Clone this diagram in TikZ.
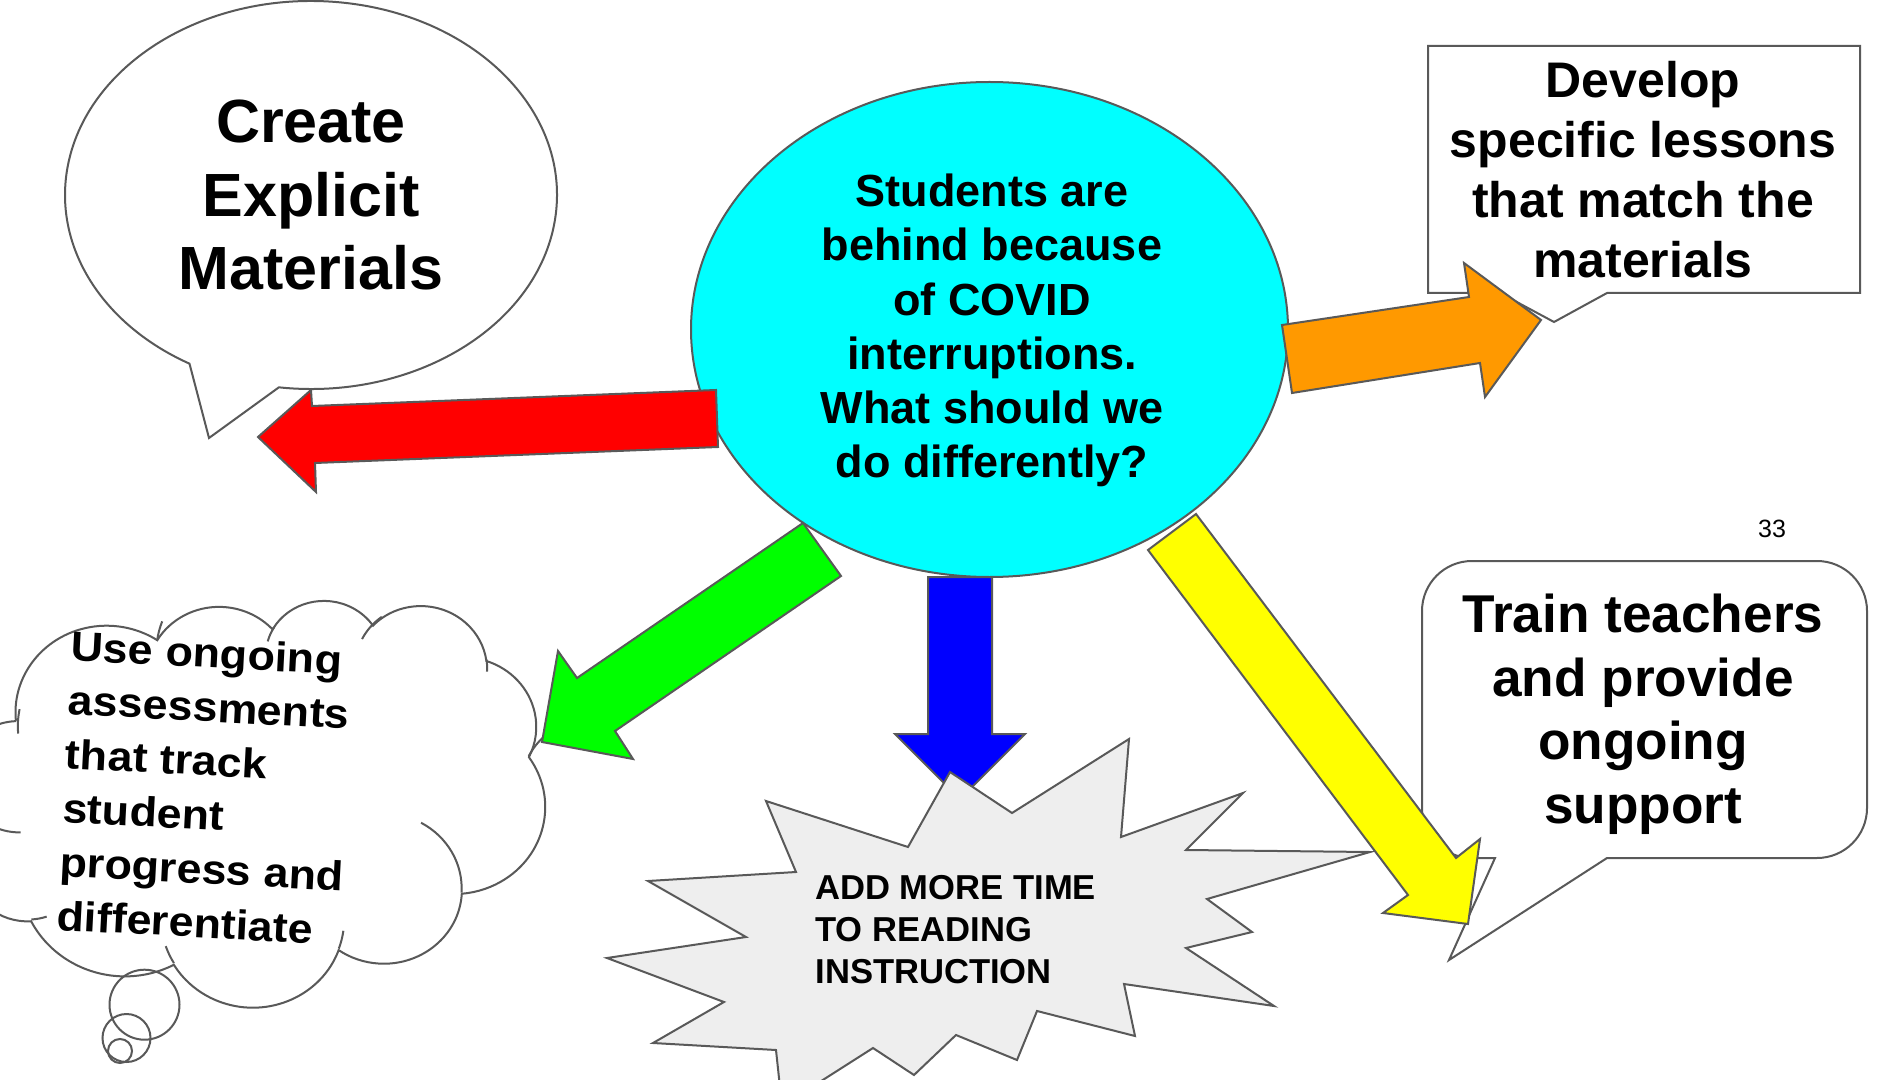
\documentclass[tikz,border=0pt]{standalone}
\usepackage{fontspec}
\setmainfont{Liberation Sans}
\usetikzlibrary{calc}
\definecolor{outl}{HTML}{595959}
\definecolor{ccyan}{HTML}{00FFFF}
\definecolor{cred}{HTML}{FF0000}
\definecolor{corange}{HTML}{FF9900}
\definecolor{cgreen}{HTML}{00FF00}
\definecolor{cblue}{HTML}{0000FF}
\definecolor{cyellow}{HTML}{FFFF00}
\definecolor{starfill}{HTML}{EEEEEE}
\tikzset{
  shapeline/.style={draw=outl, line width=1pt, line join=miter},
  blockarrow/.style={shapeline, fill=#1},
  lbl/.style={inner sep=0pt, text=black},
  ooarc/.code args={#1/#2/#3/#4}{%
    \pgfmathsetmacro\ooS{atan2((#1)*sin(#3),(#2)*cos(#3))}%
    \pgfmathsetmacro\ooE{atan2((#1)*sin((#3)+(#4)),(#2)*cos((#3)+(#4)))}%
    \pgfmathsetmacro\ooD{\ooE-\ooS}%
    \pgfmathsetmacro\ooD{\ooD+360*round(((#4)-\ooD)/360)}%
    \pgfkeysalso{/tikz/start angle=\ooS,/tikz/delta angle=\ooD,/tikz/x radius=#1,/tikz/y radius=#2}%
  }
}
\begin{document}
\begin{tikzpicture}[x=0.5pt, y=-0.5pt]
\useasboundingbox (0,0) rectangle (1878,1080);
\fill[white] (0,0) rectangle (1878,1080);

% speech bubble: Create Explicit Materials
\draw[shapeline, fill=white] ([shift={(97.5:246 and 194)}]311,195)
  arc[start angle=97.5, end angle=-240.4, x radius=246, y radius=194]
  -- (209,438) -- cycle;

% rectangular callout: Develop
\draw[shapeline, fill=white] (1428,46) -- (1860,46) -- (1860,293) -- (1607,293)
  -- (1554,322) -- (1500,293) -- (1428,293) -- cycle;

% rounded callout: Train teachers
\draw[shapeline, fill=white] (1472,561) -- (1817,561)
  arc[start angle=-90, end angle=0, radius=50] -- (1867,808)
  arc[start angle=0, end angle=90, radius=50] -- (1607,858)
  -- (1449,960) -- (1495,858) -- (1472,858)
  arc[start angle=90, end angle=180, radius=50] -- (1422,611)
  arc[start angle=180, end angle=270, radius=50] -- cycle;

% cloud callout
\begin{scope}[shift={(252,801)}, rotate=-3, xscale=1.35648, yscale=0.94907]
\draw[shapeline, fill=white] (-177.00,-72.30)
 arc[ooarc=67.53/91.90/-190.4875/123.7805]
 arc[ooarc=53.33/72.67/-144.1024/89.9452]
 arc[ooarc=43.65/59.45/-145.8079/99.7230]
 arc[ooarc=48.57/65.95/-130.9861/117.2417]
 arc[ooarc=53.33/72.73/-78.7089/109.0269]
 arc[ooarc=67.75/92.20/-46.2673/130.2690]
 arc[ooarc=57.85/78.67/0.6250/114.0333]
 arc[ooarc=67.52/92.15/22.4516/115.1726]
 arc[ooarc=77.20/105.43/66.2426/75.7110]
 arc[ooarc=43.60/59.18/-274.9421/146.7356]
 arc[ooarc=43.45/59.45/-246.8285/152.5189]
 -- cycle;
\draw[shapeline]
 (-169.07,45.77) arc[ooarc=43.45/59.45/86.742/26.4295]
 (-146.72,132.99) arc[ooarc=43.60/59.18/73.6105/11.4475]
 (-51.22,174.90) arc[ooarc=67.52/92.15/137.6242/14.0811]
 (72.27,131.51) arc[ooarc=67.52/92.15/6.4533/15.9984]
 (125.29,13.54) arc[ooarc=57.85/78.67/-70.2924/70.9174]
 (201.98,-62.46) arc[ooarc=53.33/72.73/-149.1815/30.5263]
 (167.24,-161.74) arc[ooarc=48.57/65.95/-13.7443/14.8636]
 (74.78,-176.48) arc[ooarc=48.57/65.95/-149.1815/28.0314]
 (5.41,-168.80) arc[ooarc=43.65/59.45/-163.4943/19.6128]
 (-76.00,-164.08) arc[ooarc=67.53/91.90/-173.1945/16.7617]
 (-174.73,-58.11) arc[ooarc=67.53/91.90/-190.4875/21.7470];
\end{scope}
\draw[shapeline] (144.5,1004.7) circle[radius=35];
\draw[shapeline] (126.5,1038) circle[radius=24];
\draw[shapeline] (120,1051) circle[radius=12];

% central ellipse
\draw[shapeline, fill=ccyan] (989.5,329.5) ellipse[x radius=298.5, y radius=247.5];

% block arrows
\draw[blockarrow=cred] (716,390) -- (718,447) -- (315,463) -- (316,492) -- (258,437) -- (311,390) -- (312,406) -- cycle;
\draw[blockarrow=corange] (1282,325) -- (1469,297) -- (1464,263) -- (1541,320) -- (1485,397) -- (1480,363) -- (1292,393) -- cycle;
\draw[blockarrow=cgreen] (803,523) -- (841,576) -- (615,731) -- (633,759) -- (542,742) -- (558,651) -- (577,678) -- cycle;
\draw[blockarrow=cyellow] (1196,514) -- (1456,858) -- (1480,839) -- (1468,924) -- (1383,913) -- (1408,895) -- (1148,550) -- cycle;
\draw[blockarrow=cblue] (928,577) -- (992,577) -- (992,734) -- (1025,734) -- (960,799) -- (895,734) -- (928,734) -- cycle;

% explosion
\draw[shapeline, fill=starfill] (950,772) -- (1012,813) -- (1129,739) -- (1121,837) -- (1243,793)
  -- (1186,850) -- (1370,852) -- (1207,899) -- (1252,932) -- (1186,948) -- (1274,1006)
  -- (1124,984) -- (1135,1036) -- (1037,1011) -- (1017,1060) -- (956,1035) -- (914,1075)
  -- (873,1048) -- (782,1106) -- (776,1050) -- (653,1043) -- (724,1002) -- (607,958)
  -- (746,937) -- (648,881) -- (796,872) -- (766,801) -- (908,847) -- cycle;

% texts (anchor base = baseline of the last line)
\node[lbl, font=\fontsize{30.5}{36.75}\selectfont\bfseries, align=center, anchor=base] (create) at (311,290) {Create\\Explicit\\Materials};
\node[lbl, font=\fontsize{22.5}{27}\selectfont\bfseries, align=center, anchor=base] (question) at (992,477) {Students are\\behind because\\of COVID\\interruptions.\\What should we\\do differently?};
\node[lbl, font=\fontsize{25}{30}\selectfont\bfseries, align=center, anchor=base] (develop) at (1643,278) {Develop\\specific lessons\\that match the\\materials};
\node[lbl, font=\fontsize{26.6}{31.67}\selectfont\bfseries, align=center, anchor=base] (train) at (1643,823) {Train teachers\\and provide\\ongoing\\support};
\node[lbl, font=\fontsize{17.3}{21}\selectfont\bfseries, align=left, anchor=base west] (addtime) at (815,983) {ADD MORE TIME\\TO READING\\INSTRUCTION};
\node[lbl, font=\fontsize{20.75}{27}\selectfont\bfseries, align=left, anchor=base west, rotate=-3, xscale=1.08] (assess) at (56,930) {Use ongoing\\assessments\\that track\\student\\progress and\\differentiate};
\node[lbl, font=\fontsize{12.5}{15}\selectfont, anchor=base] (pagenum) at (1772,537) {33};
\end{tikzpicture}
\end{document}
